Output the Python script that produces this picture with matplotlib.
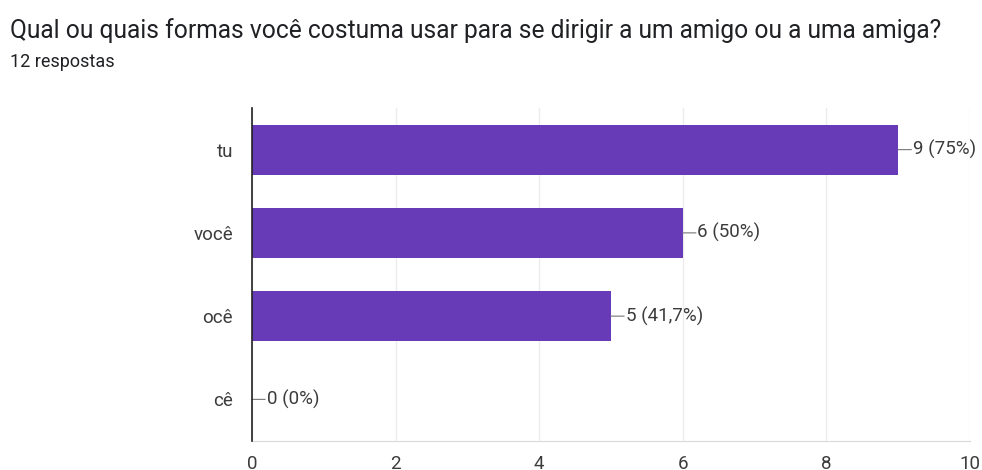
import matplotlib
matplotlib.use("Agg")
import matplotlib.pyplot as plt

# ── Data ──
categories = ["tu", "você", "ocê", "cê"]
counts = [9, 6, 5, 0]
pct_labels = ["75%", "50%", "41,7%", "0%"]
xticks = [0, 2, 4, 6, 8, 10]

title = "Qual ou quais formas você costuma usar para se dirigir a um amigo ou a uma amiga?"
subtitle = "12 respostas"

BAR = "#673ab7"
TXT = "#3c3c3c"

plt.rcParams["font.family"] = ["Roboto", "DejaVu Sans"]

fig = plt.figure(figsize=(9.82, 4.70), dpi=100)
ax = fig.add_axes([0.2566, 0.0617, 0.7312, 0.7085])

ypos = list(range(len(categories)))
ax.barh(ypos, counts, height=0.6, color=BAR, zorder=3)

ax.set_xlim(0, 10)
ax.set_ylim(len(categories) - 0.5, -0.5)
ax.set_xticks(xticks)
ax.set_xticklabels([str(t) for t in xticks], fontsize=13.5, color=TXT)
ax.set_yticks(ypos)
ax.set_yticklabels(categories, fontsize=13.5, color=TXT)
ax.tick_params(axis="both", length=0)
ax.tick_params(axis="y", pad=13.5)
ax.tick_params(axis="x", pad=10)

ax.grid(axis="x", color="#ebebeb", linewidth=1, zorder=0)
for side in ("top", "right"):
    ax.spines[side].set_visible(False)
ax.spines["bottom"].set_color("#d9d9d9")
ax.spines["left"].set_color("#222222")
ax.spines["left"].set_linewidth(1.2)
ax.spines["left"].set_zorder(4)

# leader lines + value labels
for y, c, p in zip(ypos, counts, pct_labels):
    ax.annotate("", xy=(c, y), xytext=(9.5, 0), textcoords="offset points",
                xycoords="data", annotation_clip=False,
                arrowprops=dict(arrowstyle="-", color="#777777", lw=0.8,
                                shrinkA=0, shrinkB=0))
    ax.annotate(f"{c} ({p})", xy=(c, y), xytext=(10.5, 0),
                textcoords="offset points", va="center", ha="left",
                fontsize=13.5, color=TXT, annotation_clip=False)

fig.text(0.0102, 0.936, title, fontsize=17.7, color="#202124", va="center")
fig.text(0.0102, 0.868, subtitle, fontsize=13, color="#202124", va="center")

fig.savefig("out.png", dpi=100)
